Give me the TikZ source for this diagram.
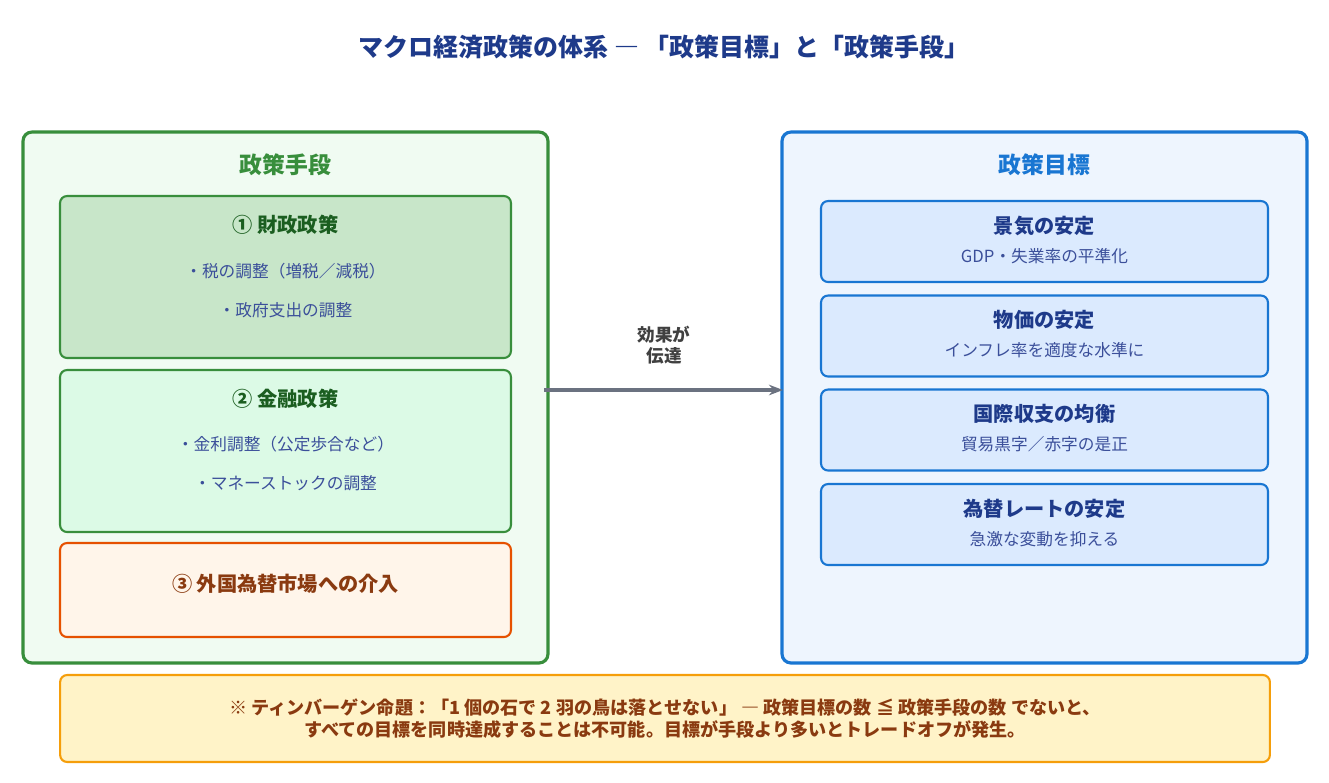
\documentclass[tikz,border=0pt]{standalone}
\usepackage{fontspec}
\setmainfont{Noto Sans CJK JP}
\usetikzlibrary{arrows.meta}
\definecolor{navy}{HTML}{1E3A8A}
\definecolor{grn}{HTML}{388E3C}
\definecolor{dgrn}{HTML}{1B5E20}
\definecolor{blu}{HTML}{1976D2}
\definecolor{txtb}{HTML}{3B4F9A}
\definecolor{org}{HTML}{E65100}
\definecolor{brn}{HTML}{8A3A10}
\definecolor{gry}{HTML}{6B7280}
\definecolor{amb}{HTML}{F59E0B}
\definecolor{gfill}{HTML}{F0FBF2}
\definecolor{gfill1}{HTML}{C8E6C9}
\definecolor{gfill2}{HTML}{DCFAE6}
\definecolor{bfill}{HTML}{EEF5FE}
\definecolor{bfill1}{HTML}{DBEAFE}
\definecolor{ofill}{HTML}{FFF5EA}
\definecolor{yfill}{HTML}{FFF3C8}
\begin{document}
\begin{tikzpicture}[x=0.02cm,y=-0.02cm]
    \tikzset{
    outer/.style={draw,rounded corners=5pt,line width=1.8pt,minimum width=10.5cm,minimum height=10.62cm},
    lbox/.style={draw=grn,rounded corners=4pt,line width=1.2pt,minimum width=9.02cm},
    rbox/.style={draw=blu,fill=bfill1,rounded corners=4pt,line width=1.2pt,minimum width=8.94cm,minimum height=1.62cm},
    head/.style={font=\bfseries\fontsize{11.5}{14}\selectfont},
    sec/.style={font=\bfseries\fontsize{13}{15}\selectfont},
    sub/.style={font=\fontsize{9.5}{12}\selectfont,text=txtb},
    }
    \useasboundingbox (0,0) rectangle (1329,782);
    \node[text=navy,font=\bfseries\fontsize{14.2}{16}\selectfont] (title) at (664,47) {マクロ経済政策の体系 ― 「政策目標」と「政策手段」};

    % policy instruments
    \node[outer,draw=grn,fill=gfill] (inst) at (285.5,397.5) {};
    \node[sec,text=grn] (instt) at (285.5,165) {政策手段};
    \node[lbox,fill=gfill1,minimum height=3.24cm] (fis) at (285.5,277) {};
    \node[head,text=dgrn] (fist) at (285.5,225) {① 財政政策};
    \node[sub] (fis1) at (285.5,271) {・税の調整（増税／減税）};
    \node[sub] (fis2) at (285.5,310) {・政府支出の調整};
    \node[lbox,fill=gfill2,minimum height=3.24cm] (mon) at (285.5,451) {};
    \node[head,text=dgrn] (mont) at (285.5,399) {② 金融政策};
    \node[sub] (mon1) at (285.5,444) {・金利調整（公定歩合など）};
    \node[sub] (mon2) at (285.5,483) {・マネーストックの調整};
    \node[lbox,draw=org,fill=ofill,minimum height=1.88cm] (fx) at (285.5,590) {};
    \node[head,text=brn] (fxt) at (285.5,584) {③ 外国為替市場への介入};

    % policy targets
    \node[outer,draw=blu,fill=bfill] (goal) at (1044.5,397.5) {};
    \node[sec,text=blu] (goalt) at (1044.5,165) {政策目標};
    \node[rbox] (g1) at (1044.5,241.5) {};
    \node[rbox] (g2) at (1044.5,336) {};
    \node[rbox] (g3) at (1044.5,430) {};
    \node[rbox] (g4) at (1044.5,524.5) {};
    \node[head,text=navy] at (1044.5,226) {景気の安定};
    \node[sub] at (1044.5,256) {GDP・失業率の平準化};
    \node[head,text=navy] at (1044.5,320) {物価の安定};
    \node[sub] at (1044.5,350) {インフレ率を適度な水準に};
    \node[head,text=navy] at (1044.5,414) {国際収支の均衡};
    \node[sub] at (1044.5,444) {貿易黒字／赤字の是正};
    \node[head,text=navy] at (1044.5,509) {為替レートの安定};
    \node[sub] at (1044.5,539) {急激な変動を抑える};

    \coordinate (from) at (544,390);
    \coordinate (to) at (783,390);
    \draw[gry,line width=2.5pt,-{Stealth[length=8pt]}] (from) -- (to);
    \node[font=\bfseries\fontsize{10}{12}\selectfont,text=black!75,align=center] (lbl) at (664,345) {効果が\\伝達};

    \node[draw=amb,fill=yfill,rounded corners=4pt,line width=1.2pt,minimum width=24.2cm,minimum height=1.74cm,
      align=center,text=brn,font=\bfseries\fontsize{10.3}{12.5}\selectfont] (note) at (665,718.5)
      {※ ティンバーゲン命題：「1 個の石で 2 羽の鳥は落とせない」 ― 政策目標の数 ≦ 政策手段の数 でないと、\\すべての目標を同時達成することは不可能。目標が手段より多いとトレードオフが発生。};
\end{tikzpicture}
\end{document}
